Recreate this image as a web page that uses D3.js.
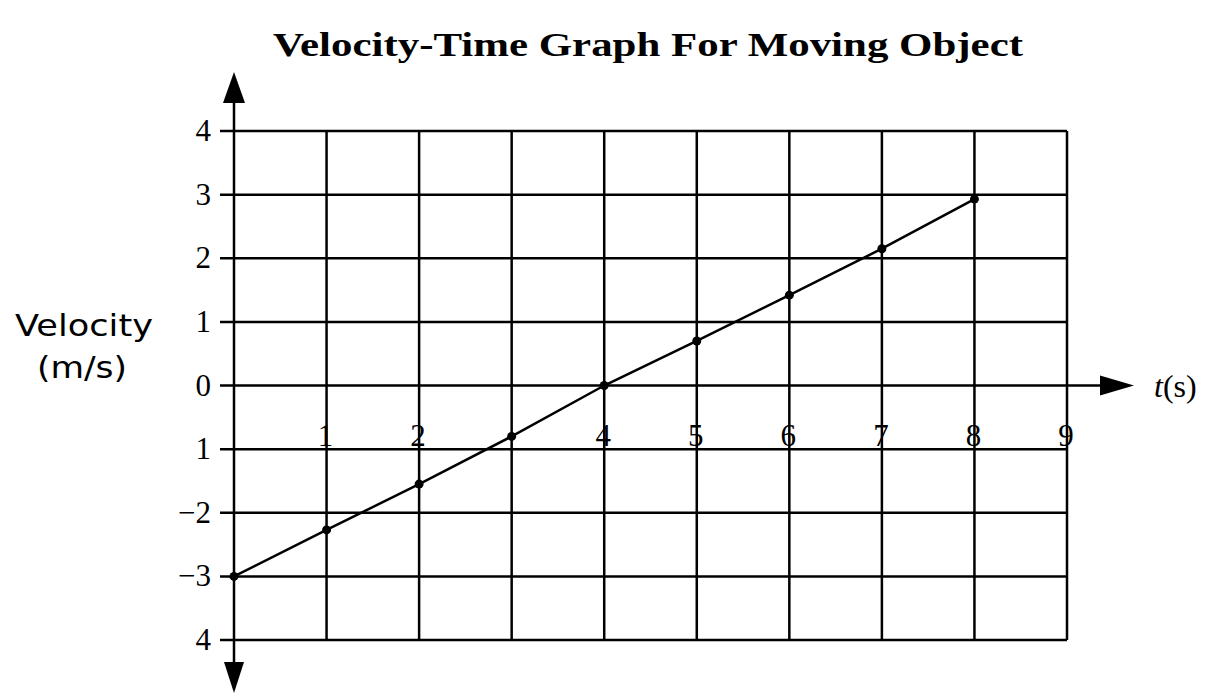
<!DOCTYPE html>
<html>
<head>
<meta charset="utf-8">
<script src="https://cdn.jsdelivr.net/npm/d3@7"></script>
<style>
  body { margin: 0; background: #fff; }
  svg { display: block; }
</style>
</head>
<body>
<div id="chart"></div>
<script>
// --------------------------------------
//  Data
// --------------------------------------

const times = [0, 1, 2, 3, 4, 5, 6, 7, 8];
const velocities = [-3, -2.27, -1.55, -0.8, 0, 0.7, 1.42, 2.15, 2.93];

const yTickValues = [4, 3, 2, 1, 0, -1, -2, -3, -4];
const yTickLabels = ["4", "3", "2", "1", "0", "1", "\u22122", "\u22123", "4"];
const xTickValues = [1, 2, 4, 5, 6, 7, 8, 9];
const xTickLabels = ["1", "2", "4", "5", "6", "7", "8", "9"];
const xGridValues = [1, 2, 3, 4, 5, 6, 7, 8, 9];

const width = 1212, height = 696;

// --------------------------------------
//  Canvas
// --------------------------------------

const svg = d3.select("#chart")
  .append("svg")
    .attr("width", width)
    .attr("height", height)
    .attr("viewBox", [0, 0, width, height]);

// --------------------------------------
//  Scales
// --------------------------------------

const x = d3.scaleLinear()
    .domain([0, 9])
    .range([234, 1067]);

const y = d3.scaleLinear()
    .domain([-4, 4])
    .range([640, 131]);

const serif = "'Liberation Serif', 'Times New Roman', serif";

// --------------------------------------
//  Title
// --------------------------------------

svg.append("text")
  .attr("x", 273)
  .attr("y", 56)
  .attr("textLength", 750)
  .attr("lengthAdjust", "spacingAndGlyphs")
  .attr("font-family", serif)
  .attr("font-weight", "bold")
  .attr("font-size", 34)
  .text("Velocity-Time Graph For Moving Object");

// --------------------------------------
//  Grid
// --------------------------------------

const grid = svg.append("g")
  .attr("stroke", "#000")
  .attr("stroke-width", 2.5);

grid.selectAll("line.h")
  .data(yTickValues)
  .join("line")
  .attr("class", "h")
  .attr("x1", 220)
  .attr("x2", d => d === 0 ? 1102 : x(9))
  .attr("y1", d => y(d))
  .attr("y2", d => y(d));

grid.selectAll("line.v")
  .data(xGridValues)
  .join("line")
  .attr("class", "v")
  .attr("x1", d => x(d))
  .attr("x2", d => x(d))
  .attr("y1", y(4))
  .attr("y2", y(-4));

// y axis with arrows
grid.append("line")
  .attr("x1", x(0)).attr("x2", x(0))
  .attr("y1", 100).attr("y2", 664);

svg.append("path")
  .attr("d", `M${x(0)},72 L${x(0) - 11},103 L${x(0) + 11},103 Z`)
  .attr("fill", "#000");

svg.append("path")
  .attr("d", `M${x(0)},693 L${x(0) - 10},662 L${x(0) + 10},662 Z`)
  .attr("fill", "#000");

// x arrow
svg.append("path")
  .attr("d", `M1134,${y(0)} L1100,${y(0) - 10} L1100,${y(0) + 10} Z`)
  .attr("fill", "#000");

// --------------------------------------
//  Tick labels
// --------------------------------------

svg.append("g")
  .selectAll("text")
  .data(yTickValues)
  .join("text")
  .attr("x", 211)
  .attr("y", d => y(d) + 10)
  .attr("text-anchor", "end")
  .attr("font-family", serif)
  .attr("font-size", 31)
  .text((d, i) => yTickLabels[i]);

svg.append("g")
  .selectAll("text")
  .data(xTickValues)
  .join("text")
  .attr("x", d => x(d) - 1)
  .attr("y", y(-1) - 3)
  .attr("text-anchor", "middle")
  .attr("font-family", serif)
  .attr("font-size", 31)
  .text((d, i) => xTickLabels[i]);

// axis titles
svg.append("text")
  .attr("x", 84)
  .attr("y", 336)
  .attr("text-anchor", "middle")
  .attr("font-family", "'DejaVu Sans', Verdana, sans-serif")
  .attr("font-size", 31)
  .attr("textLength", 138)
  .attr("lengthAdjust", "spacingAndGlyphs")
  .text("Velocity");

svg.append("text")
  .attr("x", 82)
  .attr("y", 378)
  .attr("text-anchor", "middle")
  .attr("font-family", "'DejaVu Sans', Verdana, sans-serif")
  .attr("font-size", 30)
  .attr("textLength", 90)
  .attr("lengthAdjust", "spacingAndGlyphs")
  .text("(m/s)");

const tLabel = svg.append("text")
  .attr("x", 1154)
  .attr("y", y(0) + 11)
  .attr("font-family", serif)
  .attr("font-size", 32);
tLabel.append("tspan").attr("font-style", "italic").text("t");
tLabel.append("tspan").text("(s)");

// --------------------------------------
//  Data drawing
// --------------------------------------

const data = times.map((t, i) => ({ t: t, v: velocities[i] }));

svg.append("path")
  .datum(data)
  .attr("fill", "none")
  .attr("stroke", "#000")
  .attr("stroke-width", 2.5)
  .attr("d", d3.line().x(d => x(d.t)).y(d => y(d.v)));

svg.append("g")
  .selectAll("circle")
  .data(data)
  .join("circle")
  .attr("cx", d => x(d.t))
  .attr("cy", d => y(d.v))
  .attr("r", 4.5)
  .attr("fill", "#000");
</script>
</body>
</html>
